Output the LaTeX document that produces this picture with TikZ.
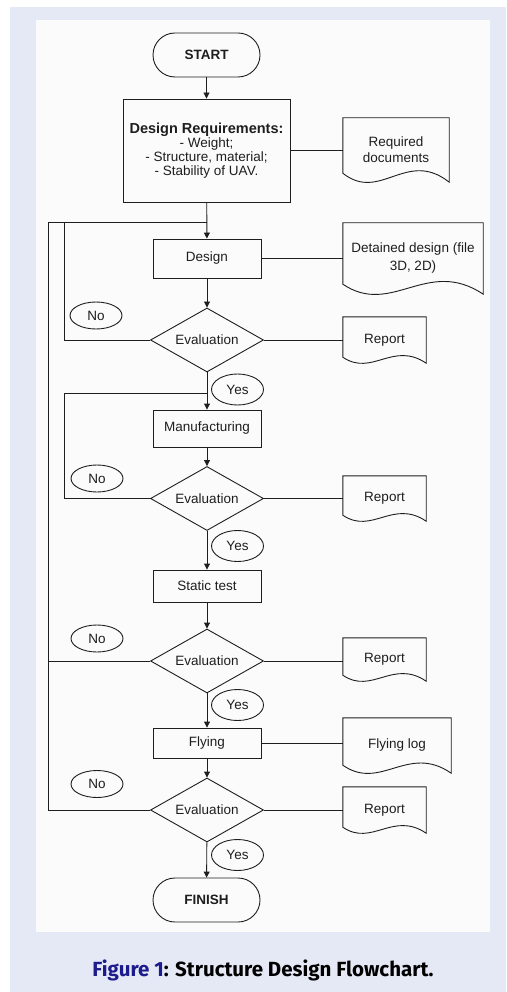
\documentclass[tikz,border=0pt]{standalone}
\usepackage{fontspec}
\setmainfont{Liberation Sans}
\newfontfamily\capfont{Fira Sans}
\usetikzlibrary{shapes.geometric,arrows.meta,calc}
\definecolor{bgblue}{RGB}{229,233,245}
\definecolor{panel}{RGB}{251,251,251}
\definecolor{ink}{RGB}{30,30,30}
\definecolor{figblue}{RGB}{28,28,140}
\newcommand\mydocout[2]{\draw[line] (#1.north west) -- (#1.north east) -- (#1.south east)
  .. controls ($(#1.south west)!0.6!(#1.south east)+(0,{-3.75*#2})$) and ($(#1.south west)!0.35!(#1.south east)+(0,{2.3*#2})$)
  .. ($(#1.south west)+(0,{-#2})$) -- cycle;}
\begin{document}
\begin{tikzpicture}[x=1pt,y=-1pt,
  every node/.style={font=\fontsize{13.5}{16}\selectfont, text=ink},
  line/.style={draw=ink, line width=0.9pt},
  arr/.style={line, -{Triangle[length=6pt,width=6pt]}},
  box/.style={line, rectangle, minimum width=108pt, inner sep=2pt},
  term/.style={line, rectangle, rounded corners=22pt, minimum width=107pt, minimum height=44pt, font=\fontsize{13.5}{16}\selectfont\bfseries},
  dec/.style={line, diamond, aspect=1.77, inner sep=0pt, minimum width=113pt, minimum height=64pt},
  lab/.style={line, ellipse, minimum width=52pt, minimum height=27pt, inner sep=0pt},
  yeslab/.style={lab, minimum height=31pt},
  doc/.style={rectangle, inner sep=0pt, align=center},
]
\fill[white] (0,0) rectangle (506,992);
\fill[bgblue] (10,7) rectangle (506,992);
\fill[panel] (36,20) rectangle (490,932);
\useasboundingbox (0,0) rectangle (506,992);

% main column
\node[term] (start) at (206.5,55) {START};
\node[box, minimum width=167pt, minimum height=103pt, align=center, font=\fontsize{13.5}{14}\selectfont] (req) at (206.5,150.5)
  {{\fontsize{14.5}{14}\selectfont\bfseries Design Requirements:}\\- Weight;\\- Structure, material;\\- Stability of UAV.};
\node[box, minimum height=39pt] (design) at (207,258.5) {Design};
\node[dec] (ev1) at (207,340) {Evaluation};
\node[box, minimum height=37pt] (manu) at (207,428.5) {Manufacturing};
\node[dec] (ev2) at (207,498.5) {Evaluation};
\node[box, minimum height=32pt] (stat) at (207,586) {Static test};
\node[dec] (ev3) at (207,661) {Evaluation};
\node[box, minimum height=30pt] (fly) at (207,743) {Flying};
\node[dec] (ev4) at (207,810) {Evaluation};
\node[term] (finish) at (206.5,900) {FINISH};

% labels
\node[lab] (no1) at (96,315.5) {No};
\node[yeslab] (yes1) at (237.5,389.5) {Yes};
\node[lab] (no2) at (97,478.5) {No};
\node[yeslab] (yes2) at (237.5,546) {Yes};
\node[lab] (no3) at (97,638.5) {No};
\node[yeslab] (yes3) at (237.5,705) {Yes};
\node[lab] (no4) at (97,784) {No};
\node[yeslab] (yes4) at (237.5,855) {Yes};

% documents
\node[doc, minimum width=106pt, minimum height=64pt] (rd) at (396,150) {Required\\documents};
\node[doc, minimum width=140pt, minimum height=71pt, font=\fontsize{13.5}{18}\selectfont] (dd) at (413,258.5) {Detained design (file\\3D, 2D)};
\node[doc, minimum width=83pt, minimum height=46pt] (rp1) at (384.5,340) {Report};
\node[doc, minimum width=83pt, minimum height=45pt] (rp2) at (384.5,498.5) {Report};
\node[doc, minimum width=83pt, minimum height=43pt] (rp3) at (384.5,659.5) {Report};
\node[doc, minimum width=108pt, minimum height=55pt] (flog) at (397,745.5) {Flying log};
\node[doc, minimum width=83pt, minimum height=46pt] (rp4) at (384.5,810) {Report};
\mydocout{rd}{9}
\mydocout{dd}{10}
\mydocout{rp1}{6}
\mydocout{rp2}{6}
\mydocout{rp3}{6}
\mydocout{flog}{8}
\mydocout{rp4}{6}

% loop corners
\coordinate (a0) at (48,222);
\coordinate (a1) at (64,222);
\coordinate (b1) at (64,393);

% connectors
\draw[arr] (start) -- (req);
\draw[line] (req.east) -- (req.east -| rd.west);
\draw[arr] (req) -- (design);
\draw[line] (design.east) -- (design.east -| dd.west);
\draw[arr] (design) -- (ev1);
\draw[line] (ev1.east) -- (ev1.east -| rp1.west);
\draw[arr] (ev1) -- (manu);
\draw[arr] (manu) -- (ev2);
\draw[line] (ev2.east) -- (ev2.east -| rp2.west);
\draw[arr] (ev2) -- (stat);
\draw[arr] (stat) -- (ev3);
\draw[line] (ev3.east) -- (ev3.east -| rp3.west);
\draw[arr] (ev3) -- (fly);
\draw[line] (fly.east) -- (fly.east -| flog.west);
\draw[arr] (fly) -- (ev4);
\draw[line] (ev4.east) -- (ev4.east -| rp4.west);
\draw[arr] (ev4) -- (finish);

% feedback loops
\draw[line] (a0) -- (a0 -| design.north);
\draw[line] (ev1.west) -| (a1);
\draw[line] (ev2.west) -| (b1) -- (b1 -| manu.north);
\draw[line] (ev3.west) -| (a0);
\draw[line] (ev4.west) -| (a0);

% caption
\node[font=\capfont\bfseries\fontsize{20.5}{24}\selectfont, text=black] (cap) at (263,970)
  {\textcolor{figblue}{Figure 1}: Structure Design Flowchart.};
\end{tikzpicture}
\end{document}
